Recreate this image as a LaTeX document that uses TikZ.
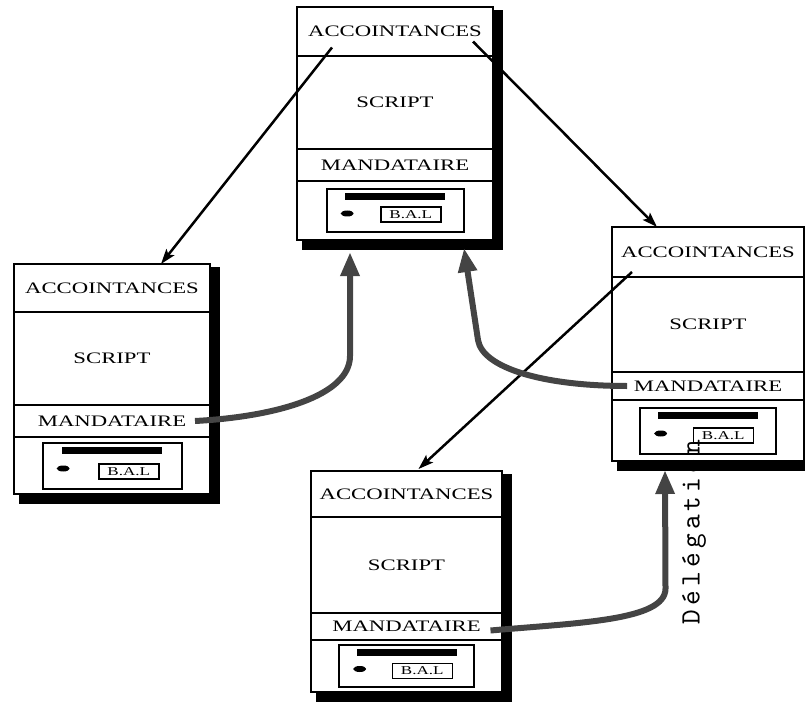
\documentclass[tikz,border=0pt]{standalone}
\usepackage{fontspec}
\newfontfamily\boxfont[FakeStretch=1.42]{Liberation Serif}
\newfontfamily\lblfont[LetterSpace=15]{lmmono10-regular.otf}
\usetikzlibrary{positioning,arrows.meta,shapes.geometric,backgrounds}
\definecolor{dgray}{RGB}{68,68,68}

\begin{document}
\begin{tikzpicture}[x=1pt,y=-1pt]
  \tikzstyle{sect}=[draw,line width=2pt,fill=white,inner sep=0pt,outer sep=0pt,font=\boxfont\fontsize{16}{18}\selectfont]
  \tikzstyle{mbox}=[draw,line width=2pt,inner sep=0pt]
  \tikzstyle{bar}=[fill=black,minimum width=100pt,minimum height=7pt,inner sep=0pt]
  \tikzstyle{dot}=[ellipse,fill=black,minimum width=13pt,minimum height=6pt,inner sep=0pt]
  \tikzstyle{bal}=[draw,line width=1.5pt,minimum width=60pt,minimum height=15pt,inner sep=0pt,font=\boxfont\fontsize{12}{12}\selectfont]
  \tikzstyle{link}=[line width=2.5pt,-{Stealth[length=15pt,width=10pt,inset=3pt]}]
  \tikzstyle{deleg}=[line width=6pt,draw=dgray,-{Triangle[length=24pt,width=18pt]}]
  \useasboundingbox (0,0) rectangle (805,711);

  % top agent
  \node[sect,anchor=north west,minimum width=196pt,minimum height=49pt] (Ag_1_acc) at (297,7) {ACCOINTANCES};
  \node[sect,below=0pt of Ag_1_acc,minimum width=196pt,minimum height=93pt] (Ag_1_scr) {SCRIPT};
  \node[sect,below=0pt of Ag_1_scr,minimum width=196pt,minimum height=32pt] (Ag_1_man) {MANDATAIRE};
  \node[sect,below=0pt of Ag_1_man,minimum width=196pt,minimum height=59pt] (Ag_1_bal) {};
  \node[mbox,minimum width=137pt,minimum height=43pt] (Ag_1_mbox) at (Ag_1_bal) {};
  \node[bar,below=5pt of Ag_1_mbox.north] (Ag_1_bar) {};
  \node[dot,right=15pt of Ag_1_mbox.west,yshift=-3pt] (Ag_1_dot) {};
  \node[bal,above left=10pt and 23pt of Ag_1_mbox.south east] (Ag_1_lbl) {B.A.L};

  % left agent
  \node[sect,anchor=north west,minimum width=196pt,minimum height=48pt] (Ag_2_acc) at (14,264) {ACCOINTANCES};
  \node[sect,below=0pt of Ag_2_acc,minimum width=196pt,minimum height=93pt] (Ag_2_scr) {SCRIPT};
  \node[sect,below=0pt of Ag_2_scr,minimum width=196pt,minimum height=32pt] (Ag_2_man) {MANDATAIRE};
  \node[sect,below=0pt of Ag_2_man,minimum width=196pt,minimum height=57pt] (Ag_2_bal) {};
  \node[mbox,minimum width=139pt,minimum height=46pt] (Ag_2_mbox) at (Ag_2_bal) {};
  \node[bar,below=5pt of Ag_2_mbox.north] (Ag_2_bar) {};
  \node[dot,right=15pt of Ag_2_mbox.west,yshift=-3pt] (Ag_2_dot) {};
  \node[bal,above left=10pt and 23pt of Ag_2_mbox.south east] (Ag_2_lbl) {B.A.L};

  % right agent
  \node[sect,anchor=north west,minimum width=192pt,minimum height=50pt] (Ag_3_acc) at (612,227) {ACCOINTANCES};
  \node[sect,below=0pt of Ag_3_acc,minimum width=192pt,minimum height=95pt] (Ag_3_scr) {SCRIPT};
  \node[sect,below=0pt of Ag_3_scr,minimum width=192pt,minimum height=28pt] (Ag_3_man) {MANDATAIRE};
  \node[sect,below=0pt of Ag_3_man,minimum width=192pt,minimum height=61pt] (Ag_3_bal) {};
  \node[mbox,minimum width=136pt,minimum height=46pt] (Ag_3_mbox) at (Ag_3_bal) {};
  \node[bar,below=5pt of Ag_3_mbox.north] (Ag_3_bar) {};
  \node[dot,right=15pt of Ag_3_mbox.west,yshift=-3pt] (Ag_3_dot) {};
  \node[bal,above left=11pt and 23pt of Ag_3_mbox.south east] (Ag_3_lbl) {B.A.L};

  % bottom agent
  \node[sect,anchor=north west,minimum width=191pt,minimum height=46pt] (Ag_4_acc) at (311,471) {ACCOINTANCES};
  \node[sect,below=0pt of Ag_4_acc,minimum width=191pt,minimum height=96pt] (Ag_4_scr) {SCRIPT};
  \node[sect,below=0pt of Ag_4_scr,minimum width=191pt,minimum height=27pt] (Ag_4_man) {MANDATAIRE};
  \node[sect,below=0pt of Ag_4_man,minimum width=191pt,minimum height=52pt] (Ag_4_bal) {};
  \node[mbox,minimum width=135pt,minimum height=42pt] (Ag_4_mbox) at (Ag_4_bal) {};
  \node[bar,below=5pt of Ag_4_mbox.north] (Ag_4_bar) {};
  \node[dot,right=15pt of Ag_4_mbox.west,yshift=-3pt] (Ag_4_dot) {};
  \node[bal,above left=9pt and 22pt of Ag_4_mbox.south east] (Ag_4_lbl) {B.A.L};

  % shadows
  \begin{scope}[on background layer]
    \fill ([shift={(5,3)}]Ag_1_acc.north west) rectangle ([shift={(10,10)}]Ag_1_bal.south east);
    \fill ([shift={(5,3)}]Ag_2_acc.north west) rectangle ([shift={(10,10)}]Ag_2_bal.south east);
    \fill ([shift={(5,3)}]Ag_3_acc.north west) rectangle ([shift={(10,10)}]Ag_3_bal.south east);
    \fill ([shift={(5,3)}]Ag_4_acc.north west) rectangle ([shift={(10,10)}]Ag_4_bal.south east);
  \end{scope}

  % accointances
  \draw[link] ([xshift=-63pt,yshift=-16pt]Ag_1_acc.center) -- ([xshift=49pt]Ag_2_acc.north);
  \draw[link] ([xshift=78pt,yshift=-10pt]Ag_1_acc.center) -- ([xshift=-51pt]Ag_3_acc.north);
  \draw[link] ([xshift=-76pt,yshift=-20pt]Ag_3_acc.center) -- ([xshift=12pt,yshift=2pt]Ag_4_acc.north);

  % delegations
  \draw[deleg] ([xshift=83pt]Ag_2_man.center) to[out=3,in=-90,out distance=80pt,in distance=40pt] ++(155,-65) -- ([xshift=-45pt,yshift=-12pt]Ag_1_bal.south);
  \draw[deleg] ([xshift=-81pt]Ag_3_man.center) to[out=180,in=-81,out distance=85pt,in distance=28pt] ++(-149,-46) -- ([xshift=69pt,yshift=-8pt]Ag_1_bal.south);
  \draw[deleg] ([xshift=84pt,yshift=-4pt]Ag_4_man.center) to[out=5,in=-90,out distance=90pt,in distance=32pt] ++(175,-42) -- ([xshift=-43pt,yshift=-9pt]Ag_3_bal.south);

  \node[rotate=90,font=\lblfont\fontsize{28}{28}\selectfont] (deleg_lbl) at (694,532) {Délégation};
\end{tikzpicture}
\end{document}
